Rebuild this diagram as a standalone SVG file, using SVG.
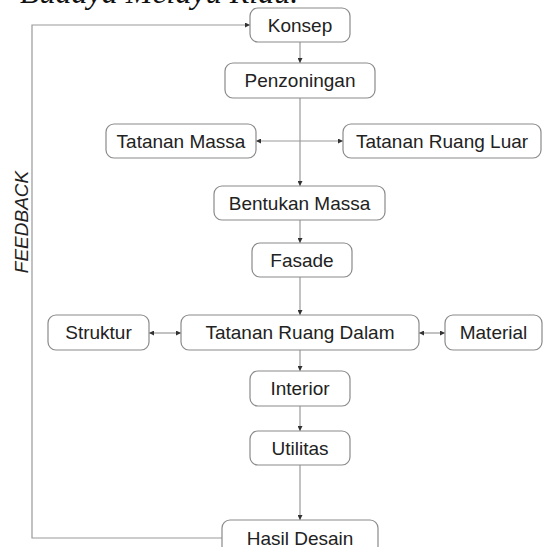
<svg xmlns="http://www.w3.org/2000/svg" width="544" height="547" viewBox="0 0 544 547">
<style>
.box{fill:#fff;stroke:#8a8a8a;stroke-width:1.2}
.lbl{font-family:"Liberation Sans",Arial,sans-serif;font-size:19px;fill:#222;text-anchor:middle}
.ln{fill:none;stroke:#999;stroke-width:1.2}
</style>
<defs>
<marker id="ah" viewBox="0 0 6 6" refX="6" refY="3" markerWidth="5" markerHeight="5" orient="auto-start-reverse" markerUnits="userSpaceOnUse">
<path d="M0,0 L6,3 L0,6 z" fill="#333"/>
</marker>
</defs>
<rect width="544" height="547" fill="#fff"/>
<text x="20" y="3" font-family="'Liberation Serif','Times New Roman',serif" font-style="italic" font-size="32" fill="#111">Budaya Melayu Riau.</text>
<text transform="translate(28,222) rotate(-90)" font-family="'Liberation Sans',Arial,sans-serif" font-style="italic" font-size="19" fill="#222" text-anchor="middle">FEEDBACK</text>
<g id="connectors">
<path class="ln" d="M300,42 V63" marker-end="url(#ah)"/>
<path class="ln" d="M300,98 V186" marker-end="url(#ah)"/>
<path class="ln" d="M300,141 H256" marker-end="url(#ah)"/>
<path class="ln" d="M300,141 H343" marker-end="url(#ah)"/>
<path class="ln" d="M300,220 V243" marker-end="url(#ah)"/>
<path class="ln" d="M300,277 V315" marker-end="url(#ah)"/>
<path class="ln" d="M149,333 H181" marker-start="url(#ah)" marker-end="url(#ah)"/>
<path class="ln" d="M419,333 H445" marker-start="url(#ah)" marker-end="url(#ah)"/>
<path class="ln" d="M300,350 V371" marker-end="url(#ah)"/>
<path class="ln" d="M300,406 V431" marker-end="url(#ah)"/>
<path class="ln" d="M300,465 V520" marker-end="url(#ah)"/>
<path class="ln" d="M222,538 H32 V25 H250" marker-end="url(#ah)"/>
</g>
<g id="konsep"><rect class="box" x="250" y="8" width="100" height="34" rx="8"/><text class="lbl" x="300" y="32">Konsep</text></g>
<g id="penzoningan"><rect class="box" x="225" y="63" width="150" height="35" rx="8"/><text class="lbl" x="300" y="87">Penzoningan</text></g>
<g id="tatanan-massa"><rect class="box" x="106" y="124" width="150" height="34" rx="8"/><text class="lbl" x="181" y="148">Tatanan Massa</text></g>
<g id="tatanan-ruang-luar"><rect class="box" x="343" y="124" width="198" height="34" rx="8"/><text class="lbl" x="442" y="148">Tatanan Ruang Luar</text></g>
<g id="bentukan-massa"><rect class="box" x="214" y="186" width="171" height="34" rx="8"/><text class="lbl" x="299.5" y="210">Bentukan Massa</text></g>
<g id="fasade"><rect class="box" x="252" y="243" width="100" height="34" rx="8"/><text class="lbl" x="302" y="267">Fasade</text></g>
<g id="struktur"><rect class="box" x="48" y="315" width="101" height="35" rx="8"/><text class="lbl" x="98.5" y="339">Struktur</text></g>
<g id="tatanan-ruang-dalam"><rect class="box" x="181" y="315" width="238" height="35" rx="8"/><text class="lbl" x="300" y="339">Tatanan Ruang Dalam</text></g>
<g id="material"><rect class="box" x="445" y="315" width="97" height="35" rx="8"/><text class="lbl" x="493.5" y="339">Material</text></g>
<g id="interior"><rect class="box" x="250" y="371" width="100" height="35" rx="8"/><text class="lbl" x="300" y="395">Interior</text></g>
<g id="utilitas"><rect class="box" x="250" y="431" width="100" height="34" rx="8"/><text class="lbl" x="300" y="455">Utilitas</text></g>
<g id="hasil-desain"><rect class="box" x="222" y="520" width="156" height="40" rx="8"/><text class="lbl" x="300" y="545">Hasil Desain</text></g>
</svg>
